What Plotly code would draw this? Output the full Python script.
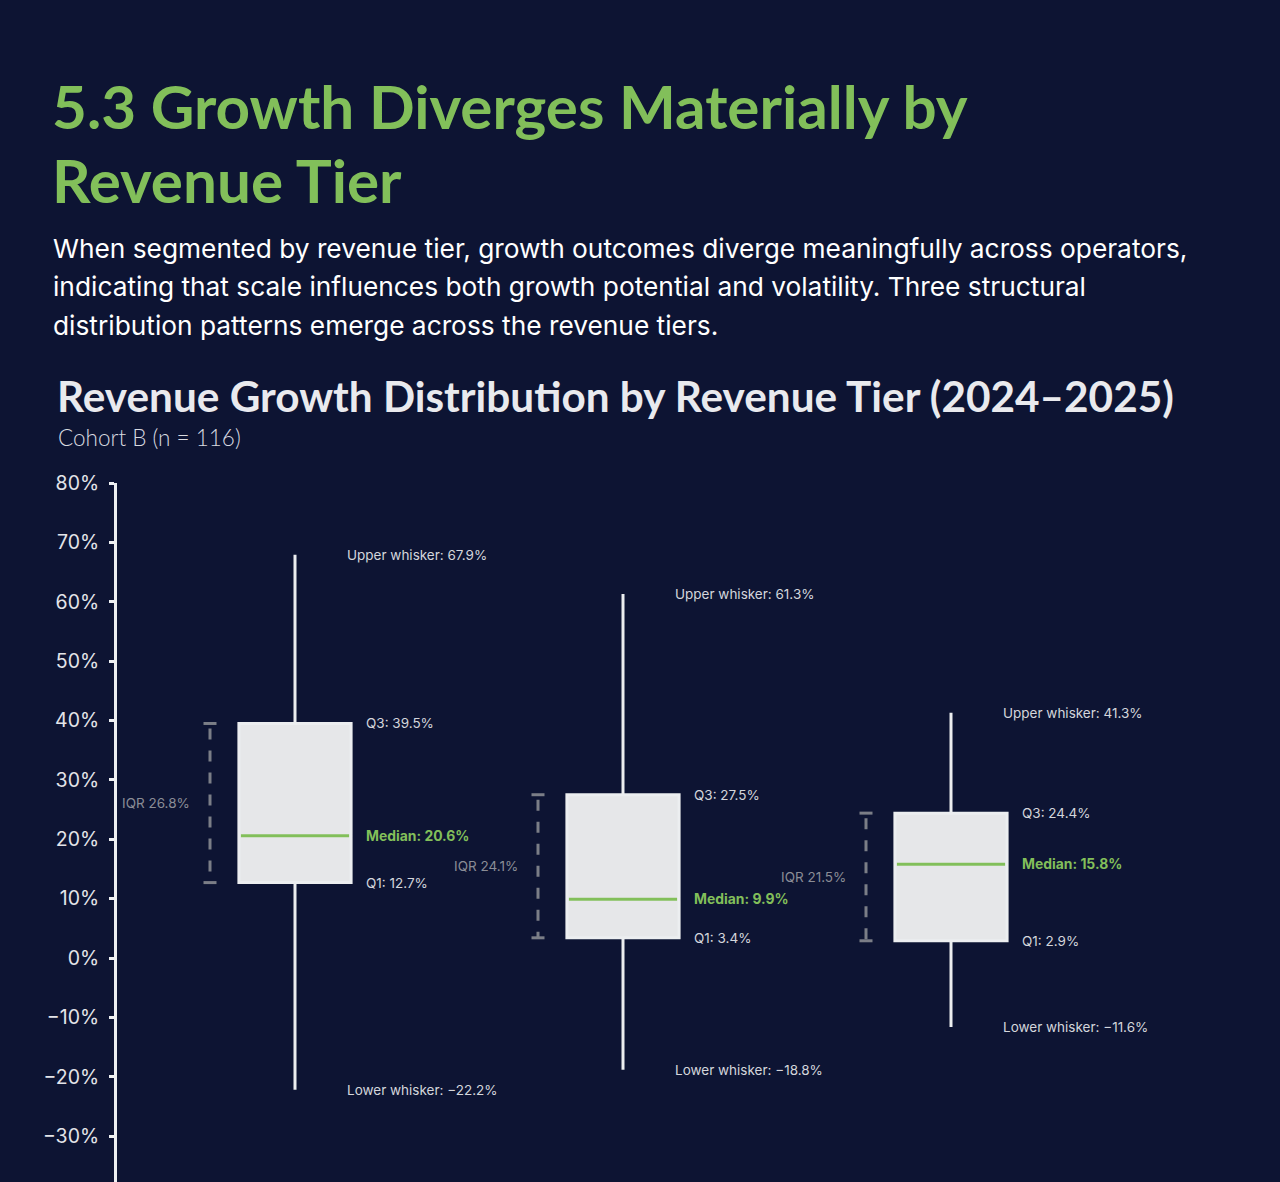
import plotly.graph_objects as go

# ---------------- data ----------------
tiers = [0, 1, 2]
lower_whisker = [-22.2, -18.8, -11.6]
q1_vals = [12.7, 3.4, 2.9]
median_vals = [20.6, 9.9, 15.8]
q3_vals = [39.5, 27.5, 24.4]
upper_whisker = [67.9, 61.3, 41.3]
y_ticks = [80, 70, 60, 50, 40, 30, 20, 10, 0, -10, -20, -30]

title_lines = ["5.3 Growth Diverges Materially by", "Revenue Tier"]
para_lines = [
    "When segmented by revenue tier, growth outcomes diverge meaningfully across operators,",
    "indicating that scale influences both growth potential and volatility. Three structural",
    "distribution patterns emerge across the revenue tiers.",
]
chart_title = "Revenue Growth Distribution by Revenue Tier (2024\u20132025)"
chart_sub = "Cohort B (n = 116)"

# ---------------- style ----------------
BG = "#0d1433"
GREEN = "#82bf5a"
BOX = "#e6e7e9"
LABEL = "#d4d6dc"
GRAY = "#7b7e87"

W, H = 1280, 1182
ML, MR, MT, MB = 117, 100, 483, 0
PW, PH = W - ML - MR, H - MT - MB
PX_PER_X = 328.0
X0 = -(295.0 - ML) / PX_PER_X
X1 = X0 + PW / PX_PER_X
Y_TOP = 80.0
Y_BOT = Y_TOP - PH / 5.9375


def py(p):
    return (H - MB - p) / PH


def pxp(p):
    return (p - ML) / PW


fig = go.Figure()

fig.add_trace(go.Box(
    x=tiers, q1=q1_vals, median=median_vals, q3=q3_vals,
    lowerfence=lower_whisker, upperfence=upper_whisker,
    width=0.342, whiskerwidth=0, fillcolor=BOX,
    line=dict(color="#eceef0", width=3), boxpoints=False,
    hoverinfo="skip", showlegend=False,
))

# median lines
for i in tiers:
    fig.add_trace(go.Scatter(
        x=[i - 0.165, i + 0.165], y=[median_vals[i], median_vals[i]],
        mode="lines", line=dict(color=GREEN, width=3),
        hoverinfo="skip", showlegend=False,
    ))

# IQR brackets
bx = -85.0 / PX_PER_X
cap = 6.5 / PX_PER_X
for i in tiers:
    xc = i + bx
    fig.add_trace(go.Scatter(
        x=[xc, xc], y=[q3_vals[i], q1_vals[i]], mode="lines",
        line=dict(color=GRAY, width=3, dash="0px,5px,11px,6px"),
        hoverinfo="skip", showlegend=False,
    ))
    for v in (q1_vals[i], q3_vals[i]):
        fig.add_trace(go.Scatter(
            x=[xc - cap, xc + cap], y=[v, v], mode="lines",
            line=dict(color=GRAY, width=3),
            hoverinfo="skip", showlegend=False,
        ))

ann = []
lab_font = dict(family="Inter, DM Sans, sans-serif", size=13.5, color=LABEL)
for i in tiers:
    ann.append(dict(x=i, y=upper_whisker[i], xref="x", yref="y", xshift=50,
                    xanchor="left", yanchor="middle", showarrow=False,
                    text=f"Upper whisker: {upper_whisker[i]:.1f}%", font=lab_font))
    ann.append(dict(x=i, y=lower_whisker[i], xref="x", yref="y", xshift=50,
                    xanchor="left", yanchor="middle", showarrow=False,
                    text=f"Lower whisker: \u2212{abs(lower_whisker[i]):.1f}%", font=lab_font))
    ann.append(dict(x=i, y=q3_vals[i], xref="x", yref="y", xshift=69,
                    xanchor="left", yanchor="middle", showarrow=False,
                    text=f"Q3: {q3_vals[i]:.1f}%", font=lab_font))
    ann.append(dict(x=i, y=q1_vals[i], xref="x", yref="y", xshift=69,
                    xanchor="left", yanchor="middle", showarrow=False,
                    text=f"Q1: {q1_vals[i]:.1f}%", font=lab_font))
    ann.append(dict(x=i, y=median_vals[i], xref="x", yref="y", xshift=69,
                    xanchor="left", yanchor="middle", showarrow=False,
                    text=f"Median: {median_vals[i]:.1f}%",
                    font=dict(family="Inter, DM Sans, sans-serif", size=13.9,
                              color=GREEN, weight=700)))
    iqr = q3_vals[i] - q1_vals[i]
    ann.append(dict(x=i, y=(q1_vals[i] + q3_vals[i]) / 2, xref="x", yref="y",
                    xshift=-103, xanchor="right", yanchor="middle", showarrow=False,
                    text=f"IQR {iqr:.1f}%",
                    font=dict(family="Inter, DM Sans, sans-serif", size=13.5, color="#8a8d96")))

# Header texts
for k, t in enumerate(title_lines):
    ann.append(dict(x=pxp(50), y=py(106 + 74 * k), xref="paper", yref="paper",
                    xanchor="left", yanchor="middle", showarrow=False, text=t,
                    font=dict(family="Lato, sans-serif", size=60.2, color=GREEN, weight=700)))
for k, t in enumerate(para_lines):
    ann.append(dict(x=pxp(51), y=py(248.5 + 38.3 * k), xref="paper", yref="paper",
                    xanchor="left", yanchor="middle", showarrow=False, text=t,
                    font=dict(family="Inter, sans-serif", size=26.3, color="#ffffff")))
ann.append(dict(x=pxp(55), y=py(395.5), xref="paper", yref="paper",
                xanchor="left", yanchor="middle", showarrow=False, text=chart_title,
                font=dict(family="Lato, sans-serif", size=42.3, color="#e9eaee", weight=700)))
ann.append(dict(x=pxp(56), y=py(437.5), xref="paper", yref="paper",
                xanchor="left", yanchor="middle", showarrow=False, text=chart_sub,
                font=dict(family="Lato, sans-serif", size=22.5, color="#d8dae0", weight=300)))

fig.update_layout(
    width=W, height=H,
    margin=dict(l=ML, r=MR, t=MT, b=MB, pad=0),
    paper_bgcolor=BG, plot_bgcolor=BG,
    showlegend=False,
    annotations=ann,
    xaxis=dict(range=[X0, X1], showgrid=False, zeroline=False, showline=False,
               showticklabels=False, ticks=""),
    yaxis=dict(range=[Y_BOT, Y_TOP], tickvals=y_ticks,
               ticktext=[(f"\u2212{abs(v)}%" if v < 0 else f"{v}%") for v in y_ticks],
               showgrid=False, zeroline=False, showline=True, linecolor="#eef0f2",
               linewidth=3, ticks="outside", ticklen=5, tickwidth=3, tickcolor="#eef0f2",
               tickfont=dict(family="Inter, sans-serif", size=19.5, color="#e3e4e9"),
               ticklabelstandoff=6),
)

fig.write_html("out.html")
